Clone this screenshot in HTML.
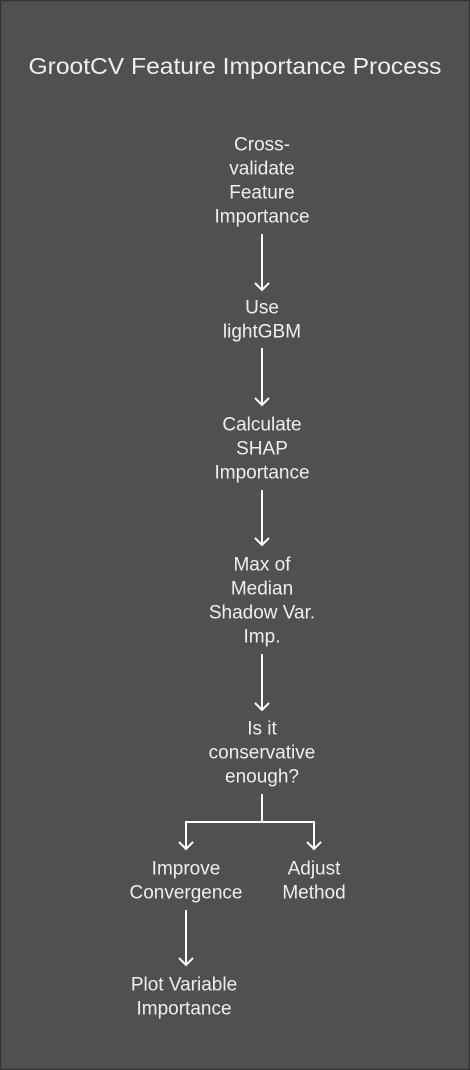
<!DOCTYPE html>
<html><head><meta charset="utf-8"><style>
html,body{margin:0;padding:0;background:#505050}
svg{display:block}
text{font-family:"Liberation Sans",sans-serif;fill:#eeeeee;text-anchor:middle;dominant-baseline:central;font-size:19px}
</style></head><body>
<svg width="470" height="1070" viewBox="0 0 470 1070">
<rect x="0.5" y="0.5" width="469" height="1069" fill="#505050" stroke="#333" stroke-width="1.5"/>
<text x="235" y="66" style="font-size:23.5px" textLength="413" lengthAdjust="spacingAndGlyphs">GrootCV Feature Importance Process</text>
<g>
<text x="262" y="145">Cross-</text><text x="262" y="169">validate</text><text x="262" y="193">Feature</text><text x="262" y="217">Importance</text>
<text x="262" y="308">Use</text><text x="262" y="332">lightGBM</text>
<text x="262" y="425">Calculate</text><text x="262" y="449">SHAP</text><text x="262" y="473">Importance</text>
<text x="262" y="565">Max of</text><text x="262" y="589">Median</text><text x="262" y="613">Shadow Var.</text><text x="262" y="637">Imp.</text>
<text x="262" y="729">Is it</text><text x="262" y="753">conservative</text><text x="262" y="777">enough?</text>
<text x="186" y="869">Improve</text><text x="186" y="893">Convergence</text>
<text x="314" y="869">Adjust</text><text x="314" y="893">Method</text>
<text x="184" y="985">Plot Variable</text><text x="184" y="1009">Importance</text>
</g>
<g stroke="#fff" stroke-width="2" fill="none">
<path d="M262 234V290M255 283L262 290L269 283"/>
<path d="M262 348V405M255 398L262 405L269 398"/>
<path d="M262 490V545M255 538L262 545L269 538"/>
<path d="M262 654V710M255 703L262 710L269 703"/>
<path d="M262 794V822M186 849V822H314V849M179 842L186 849L193 842M307 842L314 849L321 842"/>
<path d="M186 910V965M179 958L186 965L193 958"/>
</g>
</svg>
</body></html>
